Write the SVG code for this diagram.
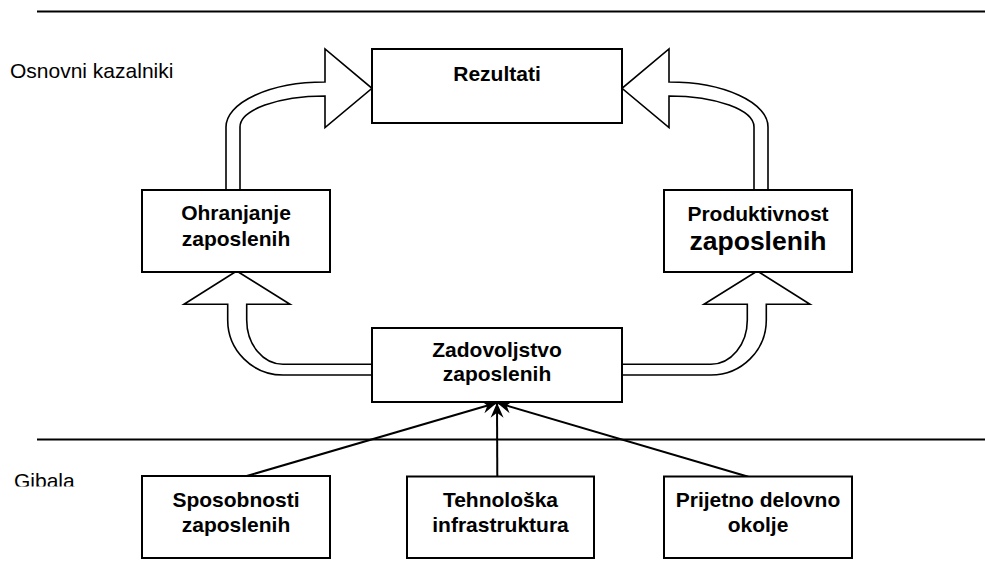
<svg xmlns="http://www.w3.org/2000/svg" width="985" height="586" viewBox="0 0 985 586">
  <style>
    .box { fill: #fff; stroke: #000; stroke-width: 2; }
    .band { stroke: #000; stroke-width: 2; fill: none; }
    .big { fill: #fff; stroke: #000; stroke-width: 1.6; stroke-linejoin: miter; }
    .thin { stroke: #000; stroke-width: 2; fill: none; }
    .lbl { font-family: "Liberation Sans", Arial, sans-serif; font-weight: bold; font-size: 21px; text-anchor: middle; fill: #000; }
    .side { font-family: "Liberation Sans", Arial, sans-serif; font-size: 21px; fill: #000; }
  </style>
  <defs>
    <marker id="head" markerUnits="userSpaceOnUse" markerWidth="18" markerHeight="16" refX="0" refY="0" viewBox="-16 -8 18 16" orient="auto">
      <path d="M0,0 L-15,-6.5 L-10,0 L-15,6.5 Z" fill="#000"/>
    </marker>
    <clipPath id="cut">
      <rect x="0" y="0" width="985" height="486.5"/>
    </clipPath>
  </defs>
  <rect width="985" height="586" fill="#fff"/>

  <!-- level separators and level names -->
  <g id="levels">
    <line class="band" x1="37" y1="11.5" x2="985" y2="11.5"/>
    <line class="band" x1="37" y1="439.5" x2="985" y2="439.5"/>
    <text class="side" x="10" y="78">Osnovni kazalniki</text>
    <text class="side" x="14" y="487.8" clip-path="url(#cut)">Gibala</text>
  </g>

  <!-- connectors -->
  <g id="connectors">
    <!-- curved block arrows -->
    <path class="big" d="M226,190 V127 A99,45 0 0 1 325,82 V49 L372,88.3 L325,127.5 V96 A85,31 0 0 0 240,127 V190 Z"/>
    <path class="big" transform="translate(994,0) scale(-1,1)" d="M226,190 V127 A99,45 0 0 1 325,82 V49 L372,88.3 L325,127.5 V96 A85,31 0 0 0 240,127 V190 Z"/>
    <path class="big" d="M372,364.3 H283 A36.3,44.3 0 0 1 246.7,320 V304.3 H290 L236.7,271 L184,304.3 H227.7 V320 A55.3,55 0 0 0 283,375 H372 Z"/>
    <path class="big" transform="translate(994,0) scale(-1,1)" d="M372,364.3 H283 A36.3,44.3 0 0 1 246.7,320 V304.3 H290 L236.7,271 L184,304.3 H227.7 V320 A55.3,55 0 0 0 283,375 H372 Z"/>
    <!-- driver arrows -->
    <line class="thin" x1="246.7" y1="476" x2="497" y2="402.7" marker-end="url(#head)"/>
    <line class="thin" x1="497.3" y1="476.7" x2="497" y2="402.7" marker-end="url(#head)"/>
    <line class="thin" x1="748.3" y1="476.7" x2="497" y2="402.7" marker-end="url(#head)"/>
  </g>

  <g id="rezultati">
    <rect class="box" x="372" y="49" width="250" height="74"/>
    <text class="lbl" x="497" y="80.5">Rezultati</text>
  </g>

  <g id="ohranjanje">
    <rect class="box" x="142" y="190" width="188" height="82"/>
    <text class="lbl" x="236" y="220">Ohranjanje</text>
    <text class="lbl" x="236" y="245.7">zaposlenih</text>
  </g>

  <g id="produktivnost">
    <rect class="box" x="664" y="190" width="188" height="82"/>
    <text class="lbl" x="758" y="220.7">Produktivnost</text>
    <text class="lbl" x="758" y="250" style="font-size:26.5px">zaposlenih</text>
  </g>

  <g id="zadovoljstvo">
    <rect class="box" x="372" y="328" width="250" height="74"/>
    <text class="lbl" x="497" y="357.3">Zadovoljstvo</text>
    <text class="lbl" x="497" y="381.3">zaposlenih</text>
  </g>

  <g id="sposobnosti">
    <rect class="box" x="142" y="476" width="188" height="82"/>
    <text class="lbl" x="236" y="506.7">Sposobnosti</text>
    <text class="lbl" x="236" y="531.5">zaposlenih</text>
  </g>

  <g id="tehnologija">
    <rect class="box" x="407" y="476.5" width="187" height="81.5"/>
    <text class="lbl" x="500.5" y="506.7">Tehnološka</text>
    <text class="lbl" x="500.5" y="531.5">infrastruktura</text>
  </g>

  <g id="okolje">
    <rect class="box" x="664" y="476.5" width="188" height="81.5"/>
    <text class="lbl" x="758" y="506.7">Prijetno delovno</text>
    <text class="lbl" x="758" y="531.5">okolje</text>
  </g>
</svg>
